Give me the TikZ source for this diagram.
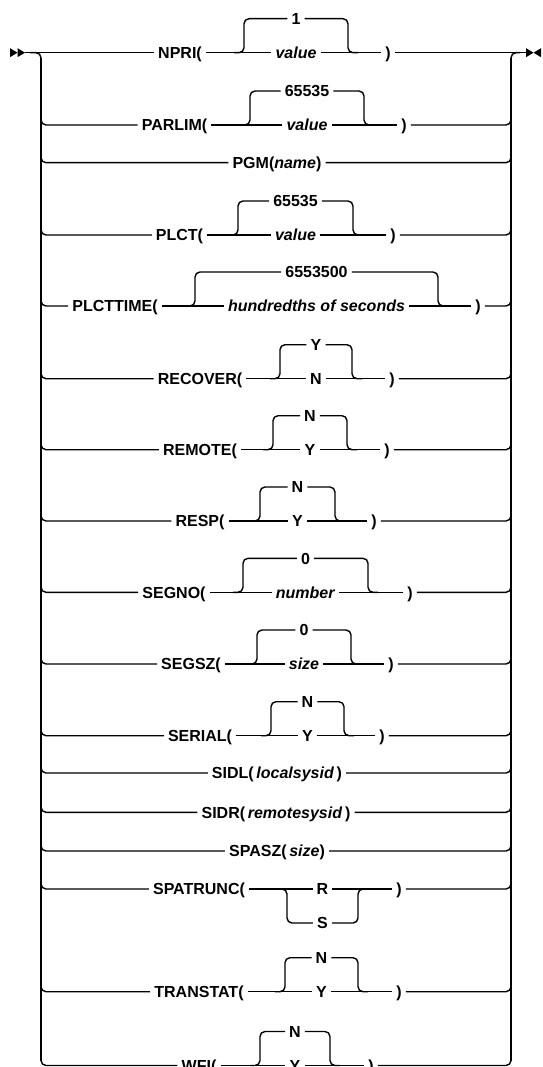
\documentclass[tikz,border=0pt]{standalone}
\usepackage{fontspec}
\setmainfont{Liberation Sans}
\tikzset{
  ln/.style={line width=1.4pt},
  rail/.style={line width=1.8pt},
  kw/.style={font=\fontsize{16}{19}\selectfont\bfseries, inner xsep=4pt, inner ysep=0pt,
             text height=11.5pt, text depth=0pt, anchor=center},
  rc/.style={ln, rounded corners=5pt}
}
% #1 name, #2 y, #3 keyword x, #4 keyword, #5 xL, #6 xR, #7 top (default), #8 main item, #9 close x
\newcommand\UpRow[9]{%
  \node[kw] (#1k) at (#3,#2) {#4};
  \node[kw] (#1b) at ({(#5+#6)/2},#2) {#8};
  \node[kw] (#1t) at ({(#5+#6)/2},#2-34) {#7};
  \node[kw] (#1c) at (#9,#2) {)};
  \draw[ln] (#1k.east) -- (#1b.west);
  \draw[ln] (#1b.east) -- (#1c.west);
  \draw[rc] (#5-10,#2) -| (#5,#2-34) -- (#1t.west);
  \draw[rc] (#1t.east) -| (#6,#2) -- (#6+10,#2);
}
\begin{document}
\begin{tikzpicture}[x=1pt,y=-1pt]
\useasboundingbox (0,0) rectangle (542,1067);

% start / end markers
\coordinate (s0) at (10,52.7);
\coordinate (s1) at (17.5,52.7);
\coordinate (s2) at (25,52.7);
\coordinate (e0) at (526,52.7);
\coordinate (e1) at (533.5,52.7);
\coordinate (e2) at (541,52.7);
\fill (10,48.2) -- (s1) -- (10,57.2) -- cycle;
\fill (17.5,48.2) -- (s2) -- (17.5,57.2) -- cycle;
\fill (526,48.2) -- (e1) -- (526,57.2) -- cycle;
\fill (541,48.2) -- (e1) -- (541,57.2) -- cycle;

% rails
\draw[rail] (41,57.7) -- (41,1061);
\draw[rail] (511,57.7) -- (511,1061);
\draw[rc] (30,52.7) -| (41,64);
\draw[rc] (511,64) |- (520,52.7);

% choice rows
\UpRow{npri}{52.7}{180}{NPRI(}{244}{348}{1}{\textit{value}}{388}
\UpRow{parlim}{125}{174.5}{PARLIM(}{250}{364}{65535}{\textit{value}}{404}
\UpRow{plct}{235}{179.5}{PLCT(}{238}{353}{65535}{\textit{value}}{393}
\UpRow{plcttime}{306}{115}{PLCTTIME(}{195}{438}{6553500}{\textit{hundredths of seconds}}{478}
\UpRow{recover}{378.7}{200}{RECOVER(}{280}{352}{Y}{N}{392}
\UpRow{remote}{449.7}{200}{REMOTE(}{273}{347}{N}{Y}{387}
\UpRow{resp}{521}{200}{RESP(}{260}{335}{N}{Y}{374}
\UpRow{segno}{592.3}{174}{SEGNO(}{243}{368}{0}{\textit{number}}{410}
\UpRow{segsz}{664}{191}{SEGSZ(}{257}{351}{0}{\textit{size}}{391}
\UpRow{serial}{735.7}{200}{SERIAL(}{271}{344}{N}{Y}{382}
\UpRow{transtat}{991.7}{199}{TRANSTAT(}{285}{358}{N}{Y}{399}
\UpRow{wfi}{1065.5}{199}{WFI(}{260}{330}{N}{Y}{371}

% simple rows
\node[kw] (pgmk) at (277,162.7) {PGM(\textit{name})};
\node[kw] (sidlk) at (277,773) {SIDL(\,\textit{localsysid}\,)};
\node[kw] (sidrk) at (276,812.3) {SIDR(\,\textit{remotesysid}\,)};
\node[kw] (spaszk) at (277,851) {SPASZ(\,\textit{size})};

% SPATRUNC row (R on main line, S below)
\node[kw] (spatrunck) at (199,889) {SPATRUNC(};
\node[kw] (spatruncb) at (322.5,889) {R};
\node[kw] (spatruncs) at (322.5,923) {S};
\node[kw] (spatruncc) at (399,889) {)};
\draw[ln] (spatrunck.east) -- (spatruncb.west);
\draw[ln] (spatruncb.east) -- (spatruncc.west);
\draw[rc] (277,889) -| (287,923) -- (spatruncs.west);
\draw[rc] (spatruncs.east) -| (358,889) -- (368,889);

% main line of first row
\draw[ln] (s2) -- (nprik.west);
\draw[ln] (npric.east) -- (e0);

% branches from rails
\foreach \a/\b/\y in {parlimk/parlimc/125, pgmk/pgmk/162.7, plctk/plctc/235,
    plcttimek/plcttimec/306, recoverk/recoverc/378.7, remotek/remotec/449.7,
    respk/respc/521, segnok/segnoc/592.3, segszk/segszc/664, serialk/serialc/735.7,
    sidlk/sidlk/773, sidrk/sidrk/812.3, spaszk/spaszk/851, spatrunck/spatruncc/889,
    transtatk/transtatc/991.7, wfik/wfic/1065.5}{
  \draw[rc] (41,\y-12) |- (\a.west);
  \draw[rc] (\b.east) -| (511,\y-12);
}
\end{tikzpicture}
\end{document}
